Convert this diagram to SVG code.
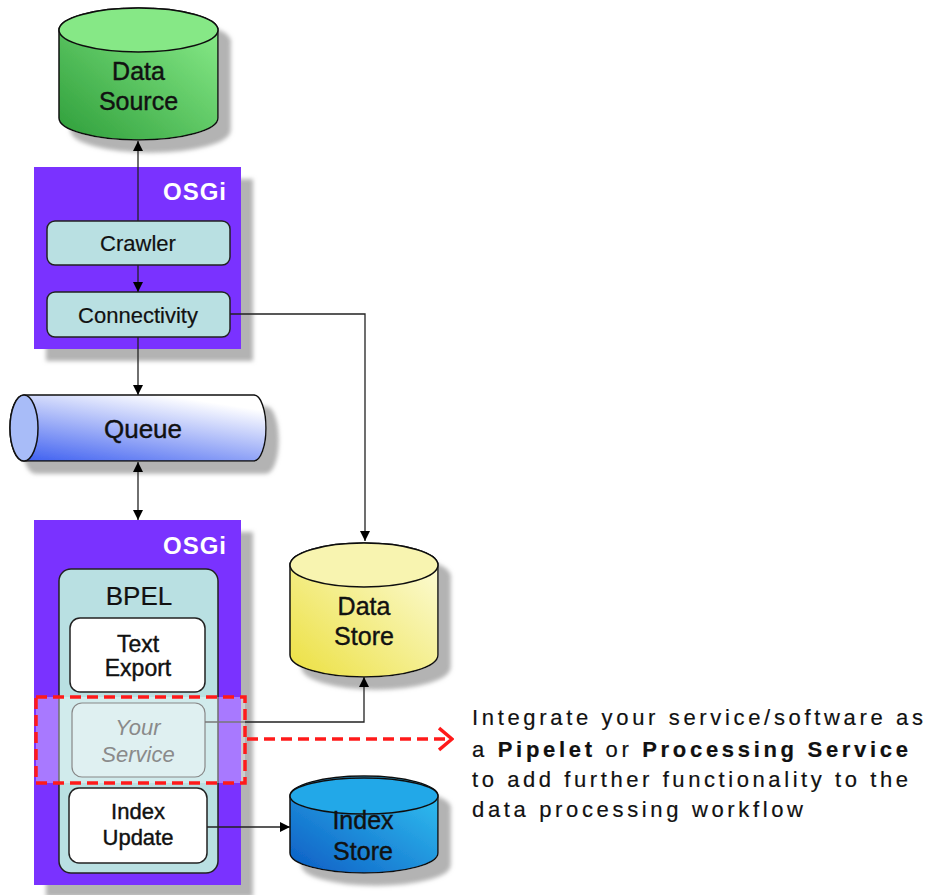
<svg xmlns="http://www.w3.org/2000/svg" width="927" height="895" viewBox="0 0 927 895">
<defs>
<filter id="sh" x="-20%" y="-20%" width="150%" height="150%">
<feDropShadow dx="12" dy="12" stdDeviation="2" flood-color="#999" flood-opacity="0.75"/>
</filter>
<linearGradient id="gGreen" x1="0" y1="1" x2="1" y2="0">
<stop offset="0" stop-color="#2e9e3a"/><stop offset="1" stop-color="#8ef08e"/>
</linearGradient>
<linearGradient id="gYellow" x1="0" y1="1" x2="1" y2="0">
<stop offset="0" stop-color="#ece040"/><stop offset="1" stop-color="#fdfde0"/>
</linearGradient>
<linearGradient id="gBlue" x1="0" y1="1" x2="1" y2="0">
<stop offset="0" stop-color="#0c5cc4"/><stop offset="1" stop-color="#34c8f4"/>
</linearGradient>
<linearGradient id="gQueue" x1="0" y1="1" x2="0.6" y2="0">
<stop offset="0" stop-color="#3a5cf0"/><stop offset="1" stop-color="#ffffff"/>
</linearGradient>
<marker id="arr" viewBox="0 0 10 10" refX="10" refY="5" markerWidth="10" markerHeight="10" markerUnits="userSpaceOnUse" orient="auto-start-reverse">
<path d="M0,0 L10,5 L0,10 z" fill="#000"/>
</marker>
<marker id="redarr" viewBox="0 0 16 26" refX="14" refY="13" markerWidth="16" markerHeight="26" markerUnits="userSpaceOnUse" orient="auto">
<path d="M1,2 L14,13 L1,24" fill="none" stroke="#ff1a1a" stroke-width="3.5"/>
</marker>
</defs>
<style>
text{font-family:"Liberation Sans",Arial,sans-serif;fill:#111;}
.lbl{font-size:25px;text-anchor:middle;stroke:#111;stroke-width:0.4;}
.sm{font-size:22px;stroke-width:0.3;}
.b{font-weight:bold;}
.osgi{font-size:24px;font-weight:bold;fill:#fff;text-anchor:end;letter-spacing:1px;}
.box{fill:#b9e0e2;stroke:#222;stroke-width:1.5;}
.wbox{fill:#fff;stroke:#222;stroke-width:1.5;}
.cyl{stroke:#111;stroke-width:1.5;}
.con{fill:none;stroke:#222;stroke-width:1.3;}
.note{font-size:22px;stroke:#111;stroke-width:0.2;}
</style>

<g id="osgi1">
<rect x="34" y="167" width="207" height="182" fill="#7a33ff" filter="url(#sh)"/>
<text class="osgi" x="227" y="200">OSGi</text>
</g>
<g id="crawler">
<rect class="box" x="47" y="221" width="183" height="44" rx="8"/>
<text class="lbl sm" x="138" y="251" style="stroke-width:0.2">Crawler</text>
</g>
<g id="connectivity">
<rect class="box" x="47" y="292" width="183" height="45" rx="8"/>
<text class="lbl sm" x="138" y="323" style="stroke-width:0.2">Connectivity</text>
</g>

<g id="datasource" filter="url(#sh)">
<path class="cyl" fill="url(#gGreen)" d="M59,30 L59,118 A79.5,22 0 0 0 218,118 L218,30 A79.5,22 0 0 0 59,30 z"/>
<ellipse class="cyl" cx="138.5" cy="30" rx="79.5" ry="22" fill="#86e886"/>
</g>
<g id="datasource-text">
<text class="lbl" x="138.5" y="80">Data</text>
<text class="lbl" x="138.5" y="110">Source</text>
</g>

<g id="queue">
<path class="cyl" fill="url(#gQueue)" filter="url(#sh)" d="M24,395 L254,395 A12,33 0 0 1 254,461 L24,461 A14,33 0 0 1 24,395 z"/>
<ellipse class="cyl" cx="24" cy="428" rx="14" ry="33" fill="#a8bcf8"/>
<text class="lbl" x="143" y="438" style="font-size:26px">Queue</text>
</g>

<g id="osgi2">
<rect x="34" y="520" width="207" height="365" fill="#7a33ff" filter="url(#sh)"/>
<text class="osgi" x="227" y="554">OSGi</text>
</g>
<g id="bpel">
<rect class="box" x="59" y="569" width="159" height="304" rx="12"/>
<text class="lbl" x="139" y="605" style="font-size:26px;stroke-width:0.2">BPEL</text>
</g>
<g id="textexport">
<rect class="wbox" x="70" y="618" width="135" height="74" rx="10"/>
<text class="lbl" x="138" y="652" style="font-size:23px">Text</text>
<text class="lbl" x="138" y="676" style="font-size:23px">Export</text>
</g>
<g id="indexupdate">
<rect class="wbox" x="69" y="788" width="138" height="75" rx="10"/>
<text class="lbl" x="138" y="819" style="font-size:22px">Index</text>
<text class="lbl" x="138" y="845" style="font-size:22px">Update</text>
</g>

<g id="yourservice">
<rect x="36" y="697" width="209" height="86" fill="#fff" fill-opacity="0.35"/>
<rect x="72" y="703" width="133" height="74" rx="10" fill="#dff0f1" stroke="#888" stroke-width="1.2"/>
<text x="138" y="735" text-anchor="middle" style="font-size:22px;font-style:italic;fill:#8a8a8a">Your</text>
<text x="138" y="762" text-anchor="middle" style="font-size:22px;font-style:italic;fill:#8a8a8a">Service</text>
<rect x="36" y="697" width="209" height="86" fill="none" stroke="#ff1a1a" stroke-width="3.5" stroke-dasharray="11 6"/>
</g>

<g id="datastore" filter="url(#sh)">
<path class="cyl" fill="url(#gYellow)" d="M290,565 L290,655 A74,22 0 0 0 438,655 L438,565 A74,22 0 0 0 290,565 z"/>
<ellipse class="cyl" cx="364" cy="565" rx="74" ry="22" fill="#f8f4b0"/>
</g>
<g id="datastore-text">
<text class="lbl" x="364" y="615">Data</text>
<text class="lbl" x="364" y="645">Store</text>
</g>

<g id="indexstore" filter="url(#sh)">
<path class="cyl" fill="url(#gBlue)" d="M290,796 L290,853 A74,20 0 0 0 438,853 L438,796 A74,20 0 0 0 290,796 z"/>
<ellipse class="cyl" cx="364" cy="796" rx="74" ry="18" fill="#22a8e8"/>
</g>
<g id="indexstore-text">
<text class="lbl" x="363" y="829">Index</text>
<text class="lbl" x="363" y="860">Store</text>
</g>

<g id="connectors">
<line class="con" x1="138" y1="221" x2="138" y2="141" marker-end="url(#arr)"/>
<line class="con" x1="138" y1="265" x2="138" y2="292" marker-end="url(#arr)"/>
<polyline class="con" points="230,314 365,314 365,541" marker-end="url(#arr)"/>
<line class="con" x1="138" y1="337" x2="138" y2="395" marker-end="url(#arr)"/>
<line class="con" x1="138" y1="462" x2="138" y2="520" marker-start="url(#arr)" marker-end="url(#arr)"/>
<line x1="205" y1="722" x2="245" y2="722" stroke="#777" stroke-width="1.3"/>
<polyline class="con" points="245,722 364,722 364,677" marker-end="url(#arr)"/>
<line class="con" x1="207" y1="827" x2="290" y2="827" marker-end="url(#arr)"/>
<line x1="247" y1="739" x2="452" y2="739" stroke="#ff1a1a" stroke-width="3.5" stroke-dasharray="11 6" marker-end="url(#redarr)"/>
</g>

<g id="note">
<text class="note" x="472" y="725" textLength="451" lengthAdjust="spacing">Integrate your service/software as</text>
<text class="note" x="472" y="757" textLength="436" lengthAdjust="spacing">a <tspan class="b">Pipelet</tspan> or <tspan class="b">Processing Service</tspan></text>
<text class="note" x="472" y="787" textLength="436" lengthAdjust="spacing">to add further functionality to the</text>
<text class="note" x="472" y="817" textLength="331" lengthAdjust="spacing">data processing workflow</text>
</g>
</svg>
